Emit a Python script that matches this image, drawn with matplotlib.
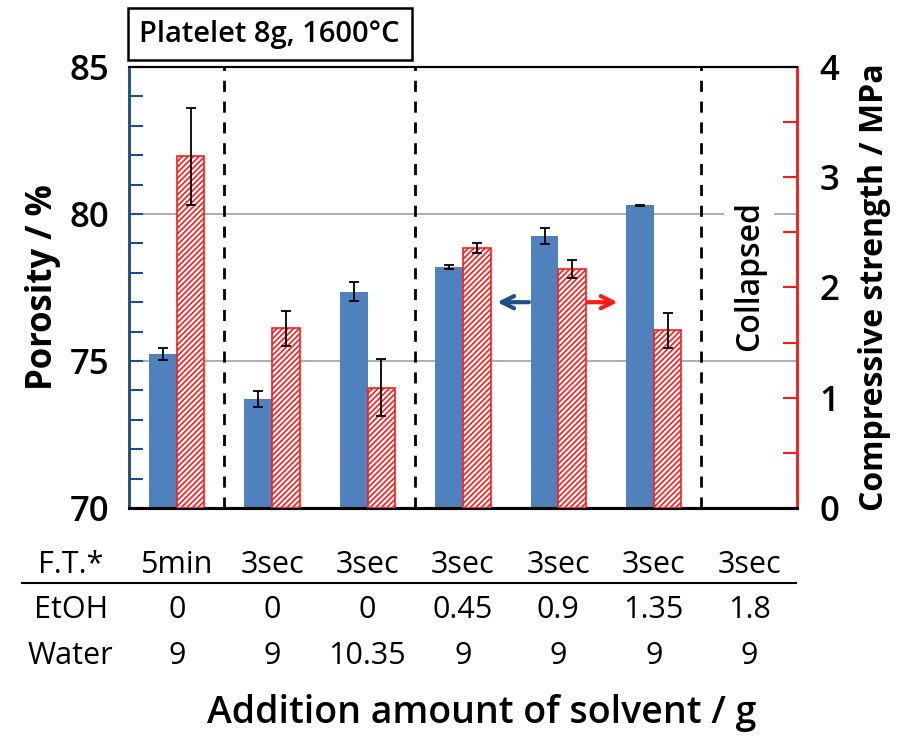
import numpy as np
import matplotlib
matplotlib.use("Agg")
import matplotlib.pyplot as plt
from matplotlib.lines import Line2D
from matplotlib.transforms import blended_transform_factory

plt.rcParams['font.family'] = ['Open Sans', 'DejaVu Sans']
plt.rcParams['hatch.color'] = '#ff2020'
plt.rcParams['hatch.linewidth'] = 1.2

# data (last sample collapsed -> no bars)
freeze_time = ['5min', '3sec', '3sec', '3sec', '3sec', '3sec', '3sec']
etoh = ['0', '0', '0', '0.45', '0.9', '1.35', '1.8']
water = ['9', '9', '10.35', '9', '9', '9', '9']
porosity = [75.24, 73.71, 77.35, 78.2, 79.25, 80.3]
porosity_err = [0.2, 0.27, 0.32, 0.07, 0.27, 0.02]
strength = [3.19, 1.63, 1.09, 2.36, 2.17, 1.61]
strength_err = [0.44, 0.16, 0.26, 0.045, 0.08, 0.16]

blue = '#4f81bd'
red = '#ff1a1a'
navy = '#1f4e8c'

fig = plt.figure(figsize=(9.17, 7.4), dpi=100)
ax = fig.add_axes([0.1407, 0.3135, 0.7283, 0.596])
ax2 = ax.twinx()

x = np.arange(len(porosity))
w = 0.29

ax.bar(x - w / 2, np.array(porosity) - 70, w, bottom=70, color=blue, zorder=3,
       yerr=porosity_err, error_kw=dict(ecolor='black', elinewidth=1.3, capsize=3.5, capthick=1.3))
ax2.bar(x + w / 2, strength, w, facecolor='white', edgecolor=red, hatch='//////',
        linewidth=1.2, zorder=3,
        yerr=strength_err, error_kw=dict(ecolor='black', elinewidth=1.3, capsize=3.5, capthick=1.3))

ax.set_xlim(-0.5, 6.5)
ax.set_ylim(70, 85)
ax2.set_ylim(0, 4)

for g in [75, 80]:
    ax.axhline(g, color='#a0a0a0', lw=1.2, zorder=1)
for d in [0.5, 2.5, 5.5]:
    ax.axvline(d, color='black', lw=2, ls=(0, (4, 3.5)), zorder=2)

ax.set_xticks([])
ax.set_yticks([70, 75, 80, 85])
ax.set_yticks(np.arange(70, 86, 1), minor=True)
ax.tick_params(axis='y', which='both', direction='in', length=10, width=1.5,
               color=navy, labelsize=25, pad=14)
ax2.set_yticks([0, 1, 2, 3, 4])
ax2.set_yticks(np.arange(0, 4.01, 0.5), minor=True)
ax2.tick_params(axis='y', which='both', direction='in', length=10, width=1.5,
                color=red, labelsize=25, pad=16)
ax2.tick_params(axis='x', which='both', bottom=False, top=False)
for lab in ax.get_yticklabels() + ax2.get_yticklabels():
    lab.set_fontweight('semibold')

for a in (ax, ax2):
    a.spines['left'].set_color(navy)
    a.spines['left'].set_linewidth(1.8)
    a.spines['right'].set_color(red)
    a.spines['right'].set_linewidth(1.8)
    a.spines['top'].set_linewidth(1.5)
    a.spines['bottom'].set_linewidth(2.2)

ax.set_ylabel('Porosity / %', fontsize=25, fontweight='bold', labelpad=6)
ax2.set_ylabel('Compressive strength / MPa', fontsize=23, fontweight='bold', labelpad=14)

# collapsed label
ax.text(6.0, 77.9, 'Collapsed', rotation=90, ha='center', va='center', fontsize=23,
        fontweight='semibold', zorder=4,
        bbox=dict(facecolor='white', edgecolor='none', pad=6))

# arrows indicating axes
ax.annotate('', xy=(3.33, 77.0), xytext=(3.72, 77.0),
            arrowprops=dict(arrowstyle='->', color=navy, lw=3, mutation_scale=22), zorder=5)
ax.annotate('', xy=(4.65, 77.0), xytext=(4.27, 77.0),
            arrowprops=dict(arrowstyle='->', color=red, lw=3, mutation_scale=22), zorder=5)

# title box
fig.text(0.152, 0.954, 'Platelet 8g, 1600\u00b0C', fontsize=21, fontweight='semibold',
         ha='left', va='center',
         bbox=dict(facecolor='white', edgecolor='black', linewidth=1.8, boxstyle='square,pad=0.4'))

# condition table below the axes
tr = blended_transform_factory(ax.transData, fig.transFigure)
cols = np.arange(len(freeze_time))
rows = [('F.T.*', freeze_time, 0.237), ('EtOH', etoh, 0.176), ('Water', water, 0.113)]
for label, vals, yy in rows:
    fig.text(0.077, yy, label, fontsize=22, ha='center', va='center')
    for c, v in zip(cols, vals):
        ax.text(c, yy, v, fontsize=22, ha='center', va='center',
                transform=tr, clip_on=False)
fig.add_artist(Line2D([0.024, 0.868], [0.212, 0.212], color='black', lw=1.5))

fig.text(0.525, 0.036, 'Addition amount of solvent / g', fontsize=27, fontweight='semibold',
         ha='center', va='center')

fig.savefig('out.png', dpi=100)
